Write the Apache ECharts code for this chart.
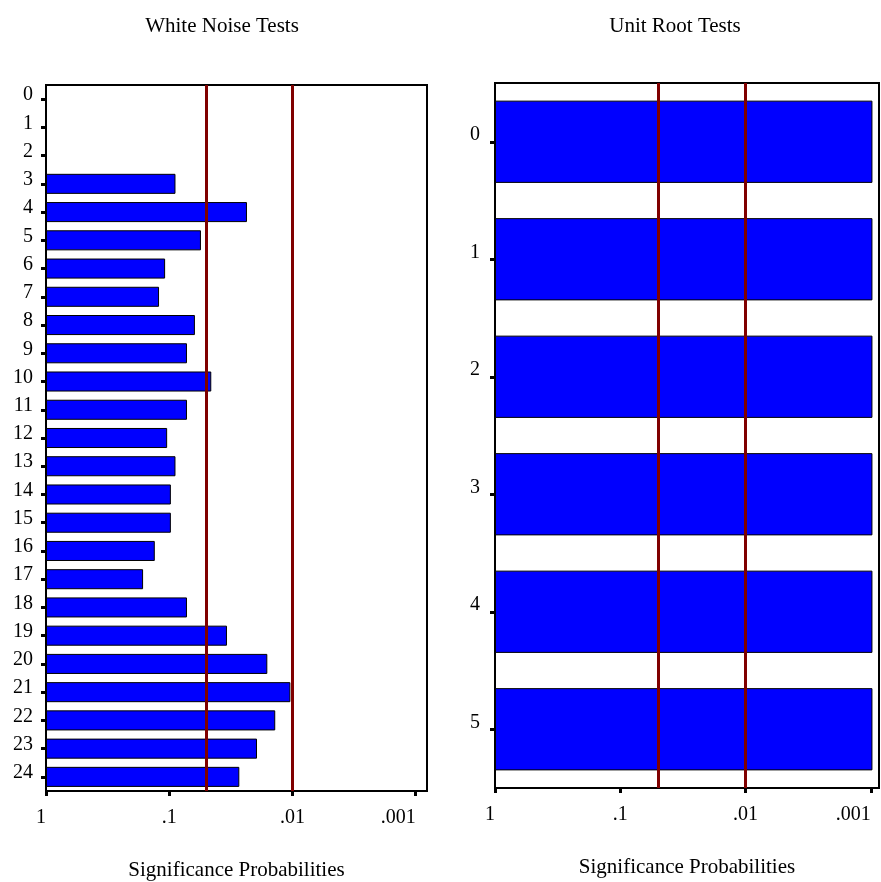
<!DOCTYPE html>
<html>
<head>
<meta charset="utf-8">
<style>
  html, body { margin: 0; padding: 0; background: #fff; }
  #chart { width: 881px; height: 882px; }
</style>
<script src="https://cdn.jsdelivr.net/npm/echarts@6/dist/echarts.min.js"></script>
</head>
<body>
<div id="chart"></div>
<script>
// Lags (categories) and significance probabilities for each test panel
var whiteNoiseLags = ['0','1','2','3','4','5','6','7','8','9','10','11','12',
                      '13','14','15','16','17','18','19','20','21','22','23','24'];
var whiteNoiseProb = ['-','-','-',0.089,0.0234,0.0553,0.108,0.121,0.0619,0.0718,0.0456,
                      0.0718,0.104,0.089,0.097,0.097,0.131,0.163,0.0718,0.034,0.016,
                      0.0104,0.0138,0.0194,0.027];

var unitRootLags = ['0','1','2','3','4','5'];
var unitRootProb = [0.00097,0.00097,0.00097,0.00097,0.00097,0.00097];

// Significance reference levels
var refLevels = [0.05, 0.01];

// Probability axis ticks and their printed labels
var probTickValues = [1, 0.1, 0.01, 0.001];
var probTickLabels = ['1', '.1', '.01', '.001'];

var titles = ['White Noise Tests', 'Unit Root Tests'];
var axisTitle = 'Significance Probabilities';

var FONT = '"Liberation Serif", "DejaVu Serif", serif';
var BLUE = '#0000ff';
var DARKRED = '#800000';

function probLabel(v) {
  var best = 0, bestD = Infinity;
  for (var i = 0; i < probTickValues.length; i++) {
    var d = Math.abs(Math.log10(v) - Math.log10(probTickValues[i]));
    if (d < bestD) { bestD = d; best = i; }
  }
  return bestD < 0.01 ? probTickLabels[best] : '';
}

function probAxis(gridIndex, minVal) {
  return {
    gridIndex: gridIndex,
    type: 'log',
    logBase: 10,
    min: minVal,
    max: 1,
    inverse: true,
    name: axisTitle,
    nameLocation: 'middle',
    nameGap: 69,
    nameTextStyle: { fontFamily: FONT, fontSize: 21, color: '#000' },
    axisLine: { show: true, lineStyle: { color: '#000', width: 2 } },
    axisTick: { show: true, customValues: probTickValues, length: 5, lineStyle: { color: '#000', width: 3 } },
    axisLabel: {
      customValues: probTickValues,
      formatter: probLabel,
      margin: 17,
      alignMinLabel: 'right',
      alignMaxLabel: 'right',
      fontFamily: FONT, fontSize: 20, color: '#000'
    },
    splitLine: { show: false },
    minorTick: { show: false }
  };
}

function lagAxis(gridIndex, cats, margin, lift) {
  return {
    gridIndex: gridIndex,
    type: 'category',
    data: cats,
    inverse: true,
    axisLine: { show: true, lineStyle: { color: '#000', width: 2 } },
    axisTick: { show: true, alignWithLabel: true, length: 5, lineStyle: { color: '#000', width: 3 } },
    axisLabel: {
      margin: margin,
      fontFamily: FONT, fontSize: 20, color: '#000',
      verticalAlign: 'bottom',
      lineHeight: lift
    },
    splitLine: { show: false }
  };
}

function refLines() {
  return {
    silent: true,
    symbol: 'none',
    label: { show: false },
    lineStyle: { color: DARKRED, width: 3, type: 'solid' },
    data: refLevels.map(function (v) { return { xAxis: v }; })
  };
}

var chart = echarts.init(document.getElementById('chart'), null, { renderer: 'canvas' });

chart.setOption({
  backgroundColor: '#fff',
  animation: false,
  title: [
    { text: titles[0], left: 222, top: 16, textAlign: 'center', padding: 0,
      textStyle: { fontFamily: FONT, fontSize: 21, fontWeight: 'normal', color: '#000' } },
    { text: titles[1], left: 675, top: 16, textAlign: 'center', padding: 0,
      textStyle: { fontFamily: FONT, fontSize: 21, fontWeight: 'normal', color: '#000' } }
  ],
  grid: [
    { left: 46, top: 85, width: 381, height: 706, show: true, borderColor: '#000', borderWidth: 2,
      containLabel: false, outerBoundsMode: 'none' },
    { left: 495, top: 83, width: 384, height: 705, show: true, borderColor: '#000', borderWidth: 2,
      containLabel: false, outerBoundsMode: 'none' }
  ],
  xAxis: [probAxis(0, 0.00081), probAxis(1, 0.00086)],
  yAxis: [lagAxis(0, whiteNoiseLags, 13, 8), lagAxis(1, unitRootLags, 15, 14)],
  series: [
    {
      type: 'bar',
      xAxisIndex: 0, yAxisIndex: 0,
      data: whiteNoiseProb,
      barCategoryGap: '29%',
      itemStyle: { color: BLUE, borderColor: '#000', borderWidth: 1 },
      markLine: refLines()
    },
    {
      type: 'bar',
      xAxisIndex: 1, yAxisIndex: 1,
      data: unitRootProb,
      barCategoryGap: '30%',
      itemStyle: { color: BLUE, borderColor: '#000', borderWidth: 1 },
      markLine: refLines()
    }
  ]
});
</script>
</body>
</html>
